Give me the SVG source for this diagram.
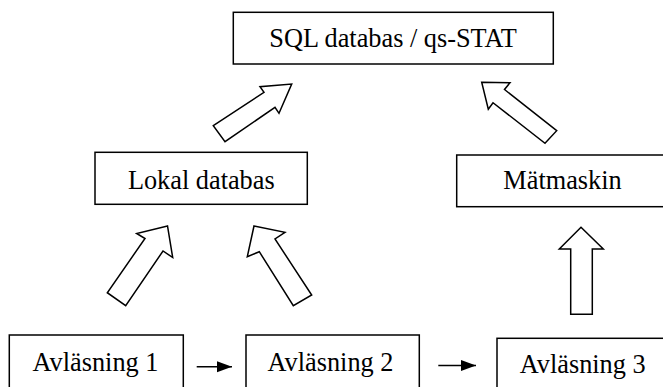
<svg xmlns="http://www.w3.org/2000/svg" width="663" height="387" viewBox="0 0 663 387">
<style>
.box{fill:#fff;stroke:#000;stroke-width:1.5}
.lbl{font-family:"Liberation Serif","Times New Roman",serif;font-size:26.3px;fill:#000;text-anchor:middle}
.blk{fill:#fff;stroke:#000;stroke-width:1.5;stroke-linejoin:miter}
.ln{stroke:#000;stroke-width:1.4;fill:none}
</style>
<defs>
<marker id="ah" markerUnits="userSpaceOnUse" markerWidth="16" markerHeight="12" refX="15" refY="5.5" orient="auto">
<path d="M0,0 L15,5.5 L0,11 z" fill="#000"/>
</marker>
</defs>
<rect width="663" height="387" fill="#fff"/>
<g id="sql">
<rect class="box" x="233.3" y="12.3" width="320" height="51.7"/>
<text class="lbl" x="393" y="47">SQL databas / qs-STAT</text>
</g>
<g id="lokal">
<rect class="box" x="95" y="152.3" width="212.3" height="52"/>
<text class="lbl" x="201.3" y="188.5">Lokal databas</text>
</g>
<g id="matmaskin">
<rect class="box" x="456.7" y="155" width="212" height="51.7"/>
<text class="lbl" x="562.5" y="189">Mätmaskin</text>
</g>
<g id="avl1">
<rect class="box" x="9.3" y="335" width="174" height="60"/>
<text class="lbl" x="95.5" y="370.7">Avläsning 1</text>
</g>
<g id="avl2">
<rect class="box" x="246" y="335" width="173.3" height="60"/>
<text class="lbl" x="330.5" y="370.7">Avläsning 2</text>
</g>
<g id="avl3">
<rect class="box" x="497" y="338.3" width="175" height="60"/>
<text class="lbl" x="582.7" y="373.3">Avläsning 3</text>
</g>
<g id="connectors">
<polygon class="blk" points="213.3,125.7 264,92.3 260,86.7 291.7,84 279,113.3 275,107.3 225,141.7"/>
<polygon class="blk" points="481.7,82.2 510,82.7 504.5,89.5 556.7,130.7 545,143.3 493,102.7 488.3,109.3"/>
<polygon class="blk" points="167.5,226 136.7,233.5 145,238.5 107.3,292.7 125.7,305.7 163,251 172.7,257.5"/>
<polygon class="blk" points="254,226 285,232.3 275,239 311.7,295 293.3,305.7 259.3,251.7 247.3,256.7"/>
<polygon class="blk" points="581,227.3 603.3,249 592.3,249 592.3,314.3 570.7,314.3 570.7,249 559.3,249"/>
<line class="ln" x1="196.7" y1="366.7" x2="232" y2="366.7" marker-end="url(#ah)"/>
<line class="ln" x1="438.3" y1="365.5" x2="476" y2="365.5" marker-end="url(#ah)"/>
</g>
</svg>
